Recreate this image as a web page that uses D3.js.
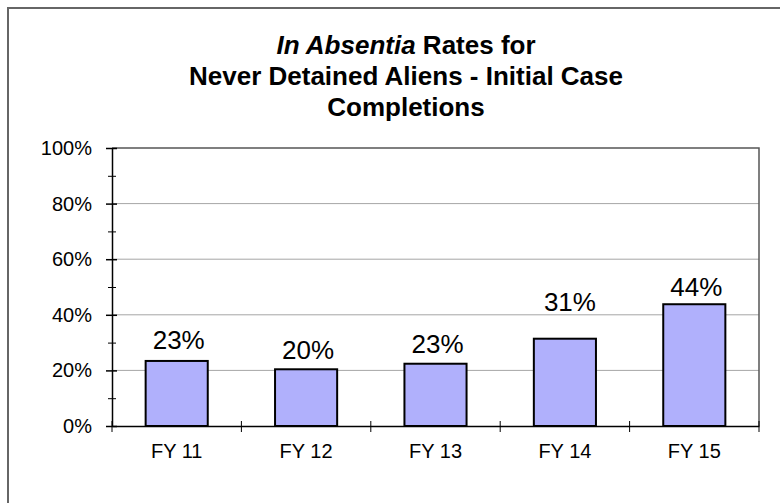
<!DOCTYPE html>
<html>
<head>
<meta charset="utf-8">
<script src="https://cdn.jsdelivr.net/npm/d3@7"></script>
<style>
  html, body { margin: 0; padding: 0; background: #fff; }
  svg { display: block; font-family: Arial, "Liberation Sans", sans-serif; }
</style>
</head>
<body>
<svg id="chart" width="780" height="503"></svg>
<script>
  const CATEGORIES = ["FY 11", "FY 12", "FY 13", "FY 14", "FY 15"];
  const RATES = [0.234, 0.204, 0.224, 0.314, 0.438];
  const RATE_LABELS = ["23%", "20%", "23%", "31%", "44%"];
  const Y_TICKS = [0, 0.2, 0.4, 0.6, 0.8, 1.0];
  const Y_MINOR = [0.1, 0.3, 0.5, 0.7, 0.9];

  // label nudges (px, upward) so the value labels sit where the original has them
  const LABEL_LIFT = [12, 10, 11, 28, 8];

  const PLOT = { left: 112, right: 759, top: 148, bottom: 426 };

  const svg = d3.select("#chart");

  // outer frame, runs off the right and bottom edge like the source
  svg.append("rect")
    .attr("x", 8).attr("y", 8).attr("width", 900).attr("height", 700)
    .attr("fill", "none").attr("stroke", "#666").attr("stroke-width", 2);

  const title = svg.append("g").attr("font-weight", "bold").attr("font-size", 26)
    .attr("text-anchor", "middle").attr("fill", "#000");
  const t1 = title.append("text").attr("x", 406).attr("y", 54);
  t1.append("tspan").attr("font-style", "italic").text("In Absentia");
  t1.append("tspan").text(" Rates for");
  title.append("text").attr("x", 406).attr("y", 85).text("Never Detained Aliens - Initial Case");
  title.append("text").attr("x", 406).attr("y", 116).text("Completions");

  const x = d3.scaleBand()
    .domain(CATEGORIES)
    .range([PLOT.left, PLOT.right])
    .paddingInner(0.52)
    .paddingOuter(0.26);

  const y = d3.scaleLinear().domain([0, 1]).range([PLOT.bottom, PLOT.top]);

  // gridlines
  svg.append("g").selectAll("line")
    .data(Y_TICKS.filter(v => v > 0 && v < 1))
    .join("line")
      .attr("x1", PLOT.left).attr("x2", PLOT.right)
      .attr("y1", d => y(d)).attr("y2", d => y(d))
      .attr("stroke", "#a6a6a6").attr("stroke-width", 1);

  // plot area border (top and right)
  svg.append("path")
    .attr("d", `M${PLOT.left},${y(1)}H${PLOT.right}V${y(0)}`)
    .attr("fill", "none").attr("stroke", "#555").attr("stroke-width", 1.5);

  // bars
  svg.append("g").selectAll("rect")
    .data(RATES)
    .join("rect")
      .attr("x", (d, i) => x(CATEGORIES[i]))
      .attr("y", d => y(d))
      .attr("width", x.bandwidth())
      .attr("height", d => y(0) - y(d))
      .attr("fill", "#b0b0fc")
      .attr("stroke", "#000").attr("stroke-width", 2);

  // value labels
  svg.append("g").attr("font-size", 26).attr("text-anchor", "middle").attr("fill", "#000")
    .selectAll("text")
    .data(RATES)
    .join("text")
      .attr("x", (d, i) => x(CATEGORIES[i]) + x.bandwidth() / 2 + (i === 3 ? 5 : 2))
      .attr("y", (d, i) => y(d) - LABEL_LIFT[i])
      .text((d, i) => RATE_LABELS[i]);

  // y axis
  const yAxis = svg.append("g").attr("transform", `translate(${PLOT.left},0)`)
    .call(d3.axisLeft(y).tickValues(Y_TICKS).tickFormat(d3.format(".0%"))
      .tickSize(6).tickSizeOuter(0).tickPadding(14));
  yAxis.select(".domain").attr("stroke", "#000").attr("stroke-width", 1.5);
  yAxis.selectAll(".tick line").attr("x1", 5).attr("stroke", "#000").attr("stroke-width", 1.5);
  yAxis.selectAll(".tick text").attr("font-size", 20).attr("font-family", null).attr("fill", "#000");

  const yMinor = svg.append("g").attr("transform", `translate(${PLOT.left},0)`)
    .call(d3.axisLeft(y).tickValues(Y_MINOR).tickFormat("").tickSize(4).tickSizeOuter(0));
  yMinor.select(".domain").remove();
  yMinor.selectAll(".tick line").attr("x1", 4).attr("stroke", "#000");

  // x axis
  const xAxis = svg.append("g").attr("transform", `translate(0,${PLOT.bottom})`)
    .call(d3.axisBottom(x).tickSize(0).tickSizeOuter(0).tickPadding(0));
  xAxis.select(".domain").attr("stroke", "#000").attr("stroke-width", 1.5);
  xAxis.selectAll(".tick text").attr("font-size", 20).attr("font-family", null)
    .attr("fill", "#000").attr("y", 32).attr("dy", 0);

  // category boundary ticks
  const bounds = d3.range(CATEGORIES.length + 1).map(i => PLOT.left + i * x.step());
  xAxis.append("g").selectAll("line")
    .data(bounds)
    .join("line")
      .attr("x1", d => d).attr("x2", d => d)
      .attr("y1", -5).attr("y2", 6)
      .attr("stroke", "#000").attr("stroke-width", 1);
</script>
</body>
</html>
